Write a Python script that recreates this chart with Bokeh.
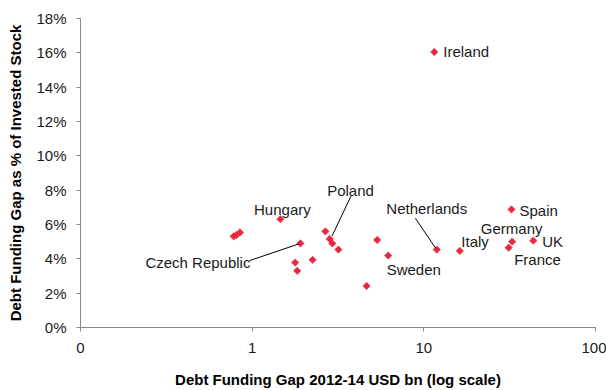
import numpy as np
from bokeh.plotting import figure
from bokeh.models import (ColumnDataSource, FixedTicker, NumeralTickFormatter,
                          Label, Range1d)
from bokeh.embed import file_html
from bokeh.resources import INLINE

# ---------------- data ----------------
names = ["Ireland", "Spain", "Germany", "France", "UK", "Italy", "Netherlands",
         "Sweden", "Poland", "Czech Republic", "Hungary",
         "", "", "", "", "", "", "", "", "", "", ""]
gap_usd_bn = [11.5, 32.4, 32.7, 31.2, 43.4, 16.2, 11.9,
              6.2, 2.83, 1.91, 1.46,
              0.78, 0.81, 0.85, 1.78, 1.83, 2.25, 2.67, 2.93, 3.18, 5.35, 4.64]
gap_pct = [0.1605, 0.0688, 0.0500, 0.0465, 0.0506, 0.0446, 0.0454,
           0.0419, 0.0516, 0.0490, 0.0631,
           0.0531, 0.0539, 0.0554, 0.0378, 0.0330, 0.0394, 0.0560, 0.0490, 0.0454, 0.0510, 0.0242]

x_ticks = [0.1, 1, 10, 100]
x_tick_labels = ["0", "1", "10", "100"]
y_ticks = [0.00, 0.02, 0.04, 0.06, 0.08, 0.10, 0.12, 0.14, 0.16, 0.18]

# ---------------- label layout (screen offsets) ----------------
label_offsets = {
    "Ireland": (9, 0, "left"),
    "Spain": (8, -1, "left"),
    "Germany": (-0.5, 13, "center"),
    "UK": (9, -1, "left"),
    "France": (5.5, -12, "left"),
    "Italy": (1.5, 9.5, "left"),
    "Sweden": (-1.5, -13.5, "left"),
    "Hungary": (2, 10, "center"),
}
# labels with leader lines: label anchor and leader start in data space
leader_labels = {
    "Netherlands": dict(lx=10.4, ly=0.0695, align="center", sx=8.93, sy=0.0636, ex=11.7, ey=0.0463),
    "Poland": dict(lx=3.74, ly=0.0800, align="center", sx=3.77, sy=0.0767, ex=2.92, ey=0.0533),
    "Czech Republic": dict(lx=0.977, ly=0.0381, align="right", sx=0.968, sy=0.0390, ex=1.87, ey=0.0487),
}

FONT = "Liberation Sans"
RED = "#E8283C"
AXIS = "#868686"

p = figure(width=606, height=390, x_axis_type="log",
           x_range=Range1d(0.1, 100), y_range=Range1d(0, 0.18),
           output_backend="svg", toolbar_location=None,
           min_border_left=80, min_border_right=11, min_border_top=18,
           min_border_bottom=61)
p.outline_line_color = None
p.xgrid.visible = False
p.ygrid.visible = False
p.background_fill_color = "white"
p.border_fill_color = "white"

src = ColumnDataSource(dict(x=gap_usd_bn, y=gap_pct, name=names))
p.scatter("x", "y", source=src, marker="square", angle=np.pi / 4, size=5.2,
          fill_color=RED, line_color=RED, line_width=0.6)

# axes styling
for ax in (p.xaxis[0], p.yaxis[0]):
    ax.axis_line_color = AXIS
    ax.major_tick_line_color = AXIS
    ax.minor_tick_line_color = None
    ax.major_tick_out = 4
    ax.major_tick_in = 0
    ax.major_label_text_font = FONT
    ax.major_label_text_font_size = "15px"
    ax.major_label_text_color = "#1a1a1a"
    ax.axis_label_text_font = FONT
    ax.axis_label_text_font_size = "15px"
    ax.axis_label_text_font_style = "bold"
    ax.axis_label_text_color = "black"

p.xaxis.ticker = FixedTicker(ticks=x_ticks, minor_ticks=[])
p.xaxis.major_label_overrides = {t: l for t, l in zip(x_ticks, x_tick_labels)}
p.xaxis.major_label_standoff = 11
p.xaxis.axis_label = "Debt Funding Gap 2012-14 USD bn (log scale)"
p.xaxis.axis_label_standoff = 15

p.yaxis.ticker = FixedTicker(ticks=y_ticks, minor_ticks=[])
p.yaxis.formatter = NumeralTickFormatter(format="0%")
p.yaxis.major_label_standoff = 10
p.yaxis.axis_label = "Debt Funding Gap as % of Invested Stock"
p.yaxis.axis_label_standoff = 9

# point labels
for n, xv, yv in zip(names, gap_usd_bn, gap_pct):
    if n in label_offsets:
        dx, dy, al = label_offsets[n]
        p.add_layout(Label(x=xv, y=yv, x_offset=dx, y_offset=dy, text=n,
                           text_align=al, text_baseline="middle",
                           text_font=FONT, text_font_size="15px",
                           text_color="#1a1a1a"))

sx, sy, ex, ey = [], [], [], []
for n, d in leader_labels.items():
    p.add_layout(Label(x=d["lx"], y=d["ly"], text=n, text_align=d["align"],
                       text_baseline="middle", text_font=FONT,
                       text_font_size="15px", text_color="#1a1a1a"))
    sx.append(d["sx"]); sy.append(d["sy"]); ex.append(d["ex"]); ey.append(d["ey"])
p.segment(x0=sx, y0=sy, x1=ex, y1=ey, line_color="black", line_width=1)

open("out.html", "w").write(file_html(p, INLINE))
